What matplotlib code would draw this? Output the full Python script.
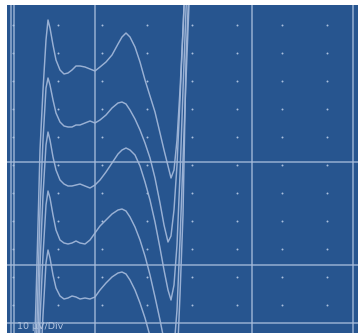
import matplotlib
matplotlib.use("Agg")
import matplotlib.pyplot as plt

# ---- data (time in screen units, amplitude in screen units, downward positive) ----
time = [30, 36, 40, 43, 46, 48, 50, 53, 56, 60, 64, 68, 72, 76, 80, 85, 90, 95, 100,
        106, 112, 118, 122, 126, 130, 135, 140, 145, 150, 155, 160, 164, 168, 171,
        174, 177, 180, 183, 186, 190]

trace1 = [500, 300, 150, 90, 40, 20, 28, 45, 60, 70, 74, 73, 70, 66, 66, 67, 69, 71, 67,
          62, 55, 44, 37, 33, 37, 47, 62, 80, 96, 112, 133, 150, 166, 178,
          170, 140, 90, 30, -40, -100]
trace2 = [560, 360, 210, 140, 88, 78, 85, 100, 113, 122, 126, 127, 127, 125, 125, 123, 121, 123, 120,
          115, 108, 103, 102, 104, 110, 119, 130, 143, 158, 178, 203, 225, 242, 236,
          210, 165, 100, 30, -40, -100]
trace3 = [620, 420, 265, 195, 145, 132, 140, 157, 170, 180, 184, 186, 186, 185, 184, 186, 188, 185, 180,
          172, 163, 154, 150, 148, 150, 155, 166, 182, 200, 222, 248, 270, 290, 300,
          285, 245, 175, 90, 10, -80]
trace4 = [680, 480, 320, 255, 205, 191, 198, 215, 230, 240, 243, 244, 243, 241, 243, 244, 240, 233, 226,
          220, 214, 210, 209, 211, 217, 227, 240, 256, 275, 297, 320, 340, 355, 360,
          348, 310, 240, 160, 80, -20]
trace5 = [740, 540, 380, 315, 263, 250, 258, 275, 288, 296, 299, 298, 296, 297, 299, 298, 299, 297, 290,
          283, 277, 273, 272, 274, 280, 290, 303, 318, 336, 356, 378, 398, 412, 418,
          405, 365, 295, 215, 60, -40]
traces = [trace1, trace2, trace3, trace4, trace5]

major_x = [10.5, 13.5, 95, 252, 353]
major_y = [162, 265, 323]
dot_x = [13, 58, 102, 147, 192, 237, 282, 327]
dot_y = [25, 53, 81, 109, 137, 165, 193, 221, 249, 277, 305]
scale_label = "10 \u00b5V/Div"

# ---- figure ----
W, H = 358, 333
fig = plt.figure(figsize=(W / 100, H / 100), dpi=100, facecolor="white")
ax = fig.add_axes([7 / W, 0, (W - 7) / W, (H - 5) / H])
ax.set_facecolor("#27558f")
ax.set_xlim(7, W)
ax.set_ylim(H, 5)
for s in ax.spines.values():
    s.set_visible(False)
ax.set_xticks([])
ax.set_yticks([])

grid_col = "#a9bedc"
for x in major_x:
    ax.axvline(x, color=grid_col, lw=1.1, alpha=0.85, zorder=1)
for y in major_y:
    ax.axhline(y, color=grid_col, lw=1.1, alpha=0.85, zorder=1)

xs = [x for x in dot_x for _ in dot_y]
ys = [y for _ in dot_x for y in dot_y]
ax.scatter(xs, ys, s=2.0, color="#aabfdd", linewidths=0, zorder=2)

for tr in traces:
    ax.plot(time, tr, color="#a0b6d8", lw=1.05, alpha=0.95, zorder=3, solid_joinstyle="round")

ax.text(17, 326.5, scale_label, color="#b3c5e0", fontsize=6.8, va="center", ha="left",
        family="DejaVu Sans", zorder=4)

fig.savefig("out.png", dpi=100, facecolor="white")
